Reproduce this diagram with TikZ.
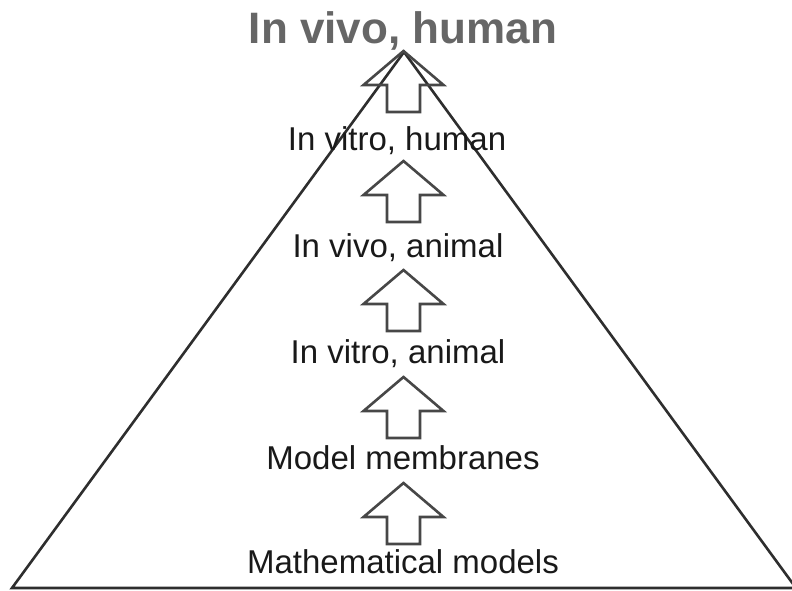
\documentclass[tikz,border=0pt]{standalone}
\usepackage{fontspec}
\setmainfont{Liberation Sans}
\tikzset{
  edge/.style={draw=black!82, line width=2.6pt, line join=miter},
  arrowline/.style={draw=black!72, line width=2.6pt, line join=miter},
  lbl/.style={anchor=base, inner sep=0pt, text=black!90, font=\fontsize{33}{38}\selectfont},
  toplbl/.style={anchor=base, inner sep=0pt, text=black!60, font=\fontsize{44}{50}\selectfont\bfseries},
  uparrow/.pic={
    \draw[arrowline] (0,0) -- (40,34) -- (16.5,34) -- (16.5,61)
      -- (-16.5,61) -- (-16.5,34) -- (-40,34) -- cycle;
  }
}
\begin{document}
\begin{tikzpicture}[x=1pt,y=-1pt]
\useasboundingbox (0,0) rectangle (792,590);
% pyramid
\coordinate (apex) at (404,52);
\coordinate (left) at (12,588);
\coordinate (right) at (796,588);
\draw[edge] (apex) -- (left) -- (right) -- cycle;
% levels
\node[toplbl] (vivohuman) at (403,43) {In vivo, human};
\node[lbl] (vitrohuman) at (397,150) {In vitro, human};
\node[lbl] (vivoanimal) at (398,257) {In vivo, animal};
\node[lbl] (vitroanimal) at (398,363) {In vitro, animal};
\node[lbl] (membranes) at (403,469) {Model membranes};
\node[lbl] (mathmodels) at (403,573) {Mathematical models};
% arrows between the levels
\foreach \t in {51,161,270,377,483}{
  \pic at (403.5,\t) {uparrow};
}
\end{tikzpicture}
\end{document}
